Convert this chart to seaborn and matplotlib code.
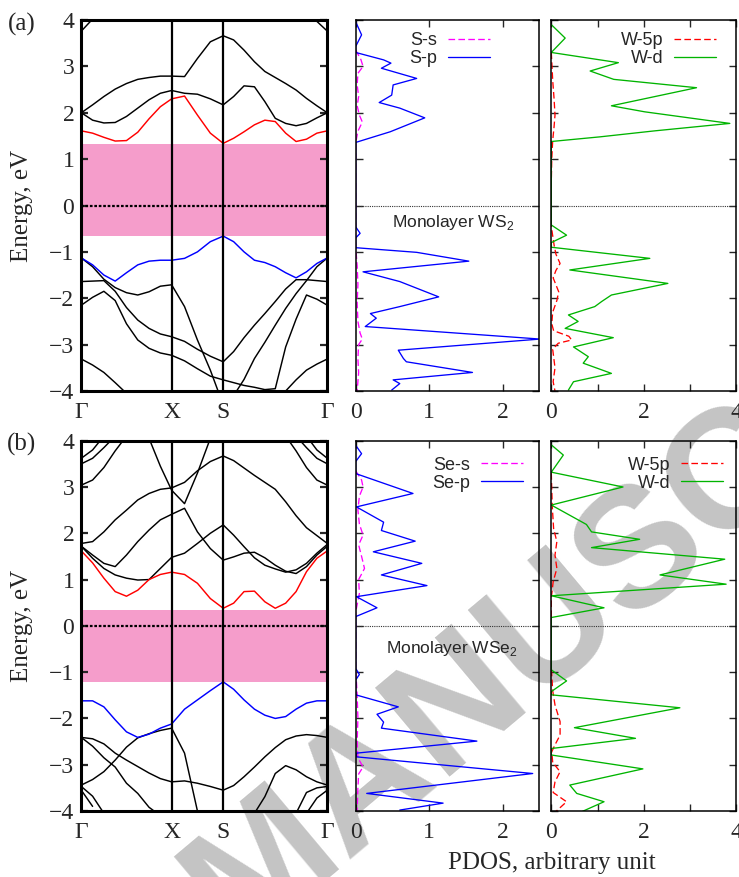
import numpy as np
import matplotlib
matplotlib.use("Agg")
import matplotlib.pyplot as plt
import seaborn as sns
from matplotlib.lines import Line2D

nan = np.nan

# ---------------- k-path (rectangular BZ: G-X-S-G) ----------------
seg_gx, seg_xs, seg_sg = 1.0, 0.571, 1.152
k = np.concatenate([seg_gx * np.linspace(0, 1, 9),
                    seg_gx + seg_xs * np.linspace(0.25, 1, 4),
                    seg_gx + seg_xs + seg_sg * np.linspace(0.1, 1, 10)])
k_labels = ["Γ", "X", "S", "Γ"]
k_nodes = [0.0, seg_gx, seg_gx + seg_xs, seg_gx + seg_xs + seg_sg]

# ---------------- WS2 bands (eV) ----------------
ws2_gap = (-0.65, 1.33)
ws2_cb_red = [1.61, 1.56, 1.47, 1.39, 1.40, 1.58, 1.87, 2.13, 2.30, 2.36, 1.95, 1.56, 1.34,
              1.45, 1.59, 1.74, 1.84, 1.81, 1.56, 1.38, 1.43, 1.56, 1.61]
ws2_c2 = [2.00, 1.84, 1.78, 1.79, 1.92, 2.10, 2.28, 2.42, 2.48, 2.42, 2.40, 2.30, 2.17,
          2.35, 2.58, 2.56, 2.24, 1.88, 1.77, 1.72, 1.77, 1.89, 2.00]
ws2_c3 = [2.00, 2.17, 2.35, 2.51, 2.63, 2.72, 2.76, 2.79, 2.79, 2.78, 3.17, 3.53, 3.66,
          3.57, 3.35, 3.10, 2.89, 2.76, 2.63, 2.49, 2.31, 2.15, 2.00]
ws2_c4 = [3.76, 4.02] + [nan] * 19 + [3.97, 3.76]
ws2_vb_blue = [-1.13, -1.28, -1.50, -1.63, -1.45, -1.28, -1.20, -1.18, -1.18, -1.14, -1.00, -0.78, -0.66,
               -0.78, -1.00, -1.18, -1.23, -1.32, -1.45, -1.56, -1.43, -1.25, -1.13]
ws2_v2 = [-1.13, -1.32, -1.59, -1.77, -1.88, -1.93, -1.86, -1.74, -1.71, -2.18, -2.90, -3.55, -4.30,
          -4.10, -3.75, -3.30, -2.95, -2.58, -2.22, -1.90, -1.62, -1.32, -1.13]
ws2_v3 = [-1.64, -1.63, -1.62, -1.85, -2.20, -2.47, -2.65, -2.77, -2.83, -2.93, -3.10, -3.25, -3.37,
          -3.15, -2.85, -2.58, -2.33, -2.07, -1.80, -1.60, -1.60, -1.62, -1.64]
ws2_v4 = [-2.15, -1.98, -1.85, -2.05, -2.55, -2.90, -3.08, -3.18, -3.23, -3.35, -3.52, -3.68, -3.76,
          -3.82, -3.88, -3.92, -3.97, -3.95, -3.05, -2.45, -1.93, -2.02, -2.15]
ws2_v5 = [-3.31, -3.44, -3.60, -3.82, -4.05] + [nan] * 13 + [-4.00, -3.76, -3.55, -3.42, -3.31]

# ---------------- WSe2 bands (eV) ----------------
wse2_gap = (-1.21, 0.35)
wse2_cb_red = [1.62, 1.36, 1.03, 0.74, 0.64, 0.77, 1.00, 1.11, 1.16, 1.11, 0.92, 0.59, 0.38,
               0.49, 0.74, 0.75, 0.52, 0.38, 0.49, 0.74, 1.17, 1.46, 1.62]
wse2_c2 = [1.72, 1.46, 1.24, 1.10, 1.03, 0.99, 1.00, 1.24, 1.48, 1.57, 1.78, 2.00, 2.18,
           1.96, 1.71, 1.47, 1.31, 1.23, 1.16, 1.21, 1.35, 1.57, 1.76]
wse2_c3 = [1.72, 1.53, 1.35, 1.28, 1.53, 1.82, 2.07, 2.29, 2.41, 2.54, 2.03, 1.67, 1.42,
           1.49, 1.57, 1.59, 1.47, 1.31, 1.18, 1.13, 1.28, 1.53, 1.72]
wse2_c4 = [1.78, 1.82, 2.03, 2.29, 2.50, 2.72, 2.86, 2.95, 2.98, 3.10, 3.35, 3.55, 3.67,
           3.57, 3.41, 3.25, 3.10, 2.95, 2.68, 2.38, 2.12, 1.95, 1.78]
wse2_c5 = [nan] * 6 + [4.05, 3.45, 2.93, 2.64, 3.30, 4.05] + [nan] * 11
wse2_c6 = [3.62, 3.80, 4.10] + [nan] * 17 + [4.10, 3.80, 3.62]
wse2_c7 = [3.50, 3.62, 3.85, 4.10] + [nan] * 15 + [4.10, 3.85, 3.62, 3.50]
wse2_c8 = [3.04, 3.15, 3.42, 3.78, 4.10] + [nan] * 13 + [4.10, 3.78, 3.42, 3.15, 3.04]
wse2_vb_blue = [-1.62, -1.62, -1.75, -2.03, -2.29, -2.41, -2.34, -2.21, -2.12, -1.80, -1.60, -1.40, -1.21,
                -1.37, -1.60, -1.80, -1.93, -2.00, -1.96, -1.80, -1.67, -1.62, -1.62]
wse2_v2 = [-2.41, -2.44, -2.55, -2.75, -2.90, -3.04, -3.18, -3.30, -3.37, -3.35, -3.40, -3.47, -3.55,
           -3.45, -3.26, -3.05, -2.83, -2.63, -2.46, -2.38, -2.35, -2.37, -2.41]
wse2_v3 = [-3.44, -3.32, -3.15, -2.90, -2.62, -2.42, -2.33, -2.26, -2.21, -2.75, -4.00] + [nan] * 12
wse2_v4 = [-2.41, -2.60, -2.85, -3.05, -3.40, -3.62, -3.92, -4.10] + [nan] * 15
wse2_v5 = [-3.47, -3.68, -4.05] + [nan] * 16 + [-4.05, -3.60, -3.50, -3.47]
wse2_v6 = [-3.55, -3.90] + [nan] * 18 + [-4.05, -3.72, -3.55]
wse2_v7 = [nan] * 15 + [-4.05, -3.69, -3.19, -3.02, -3.11, -3.26, -3.37, -3.44]

# ---------------- PDOS, WS2 ----------------
ws2_sp_E = [3.96, 3.68, 3.43, 3.30, 3.14, 3.07, 2.96, 2.74, 2.60, 2.38, 2.22, 2.10, 1.89, 1.59, 1.36,
            -0.46, -0.60, -0.70, -0.91, -1.01, -1.20, -1.43, -1.64, -1.97, -2.18, -2.33, -2.43, -2.61,
            -2.88, -3.12, -3.30, -3.37, -3.60, -3.76, -3.84, -3.98]
ws2_sp_v = [0.00, 0.08, 0.00, 0.00, 0.38, 0.48, 0.35, 0.83, 0.51, 0.49, 0.32, 0.60, 0.94, 0.47, 0.00,
            0.00, 0.06, 0.00, 0.00, 0.83, 1.54, 0.10, 0.60, 1.13, 0.60, 0.20, 0.28, 0.13,
            2.51, 0.58, 0.65, 0.69, 1.59, 0.51, 0.60, 0.49]
ws2_ss_E = [3.35, 3.15, 3.00, 2.85, 2.60, 2.35, 2.15, 1.95, 1.80, 1.60, 1.35, -0.90, -1.30, -1.70,
            -2.10, -2.50, -2.75, -2.88, -3.00, -3.30, -3.60, -4.00]
ws2_ss_v = [0.00, 0.07, 0.10, 0.03, 0.02, 0.04, 0.02, 0.05, 0.09, 0.03, 0.00, 0.00, 0.02, 0.03,
            0.02, 0.03, 0.06, 0.09, 0.04, 0.03, 0.04, 0.02]
ws2_wd_E = [3.90, 3.61, 3.30, 3.08, 2.90, 2.72, 2.54, 2.15, 2.02, 1.77, 1.61, 1.48, 1.38,
            -0.42, -0.64, -0.80, -0.90, -1.14, -1.39, -1.68, -1.93, -2.07, -2.18, -2.36, -2.50,
            -2.65, -2.85, -3.05, -3.26, -3.40, -3.62, -3.80, -3.98]
ws2_wd_v = [0.00, 0.30, 0.00, 1.45, 0.84, 1.35, 3.14, 1.30, 2.02, 3.86, 2.24, 1.05, 0.00,
            0.00, 0.33, 0.00, 0.00, 2.13, 0.40, 2.52, 1.30, 1.09, 0.94, 0.37, 0.58,
            0.30, 1.34, 0.48, 0.80, 0.69, 1.30, 0.48, 0.37]
ws2_w5p_E = [3.30, 2.70, 2.30, 1.95, 1.70, 1.40, 1.00, 0.50, -0.45, -0.85, -1.05, -1.25, -1.40,
             -1.56, -1.86, -2.05, -2.30, -2.55, -2.70, -2.82, -2.90, -2.97, -3.10, -3.50, -3.80, -4.00]
ws2_w5p_v = [0.00, 0.03, 0.06, 0.08, 0.06, 0.03, 0.01, 0.00, 0.00, 0.06, 0.10, 0.19, 0.10,
             0.04, 0.16, 0.12, 0.03, 0.01, 0.05, 0.38, 0.44, 0.15, 0.03, 0.08, 0.04, 0.08]

# ---------------- PDOS, WSe2 ----------------
wse2_sp_E = [3.90, 3.72, 3.55, 3.29, 2.86, 2.57, 2.24, 2.06, 1.83, 1.60, 1.35, 1.10, 0.87, 0.63, 0.39,
             0.20, -0.92, -1.05, -1.17, -1.49, -1.75, -1.91, -2.08, -2.21, -2.49, -2.75, -2.83,
             -3.19, -3.62, -3.83, -3.98]
wse2_sp_v = [0.00, 0.08, 0.00, 0.00, 0.78, 0.01, 0.38, 0.35, 0.81, 0.24, 0.90, 0.35, 0.97, 0.01, 0.29,
             0.00, 0.00, 0.05, 0.00, 0.00, 0.58, 0.29, 0.38, 0.35, 1.65, 0.01, 0.01,
             2.41, 0.15, 1.19, 0.60]
wse2_ss_E = [3.35, 3.15, 3.00, 2.80, 2.50, 2.20, 1.96, 1.75, 1.50, 1.24, 1.00, 0.70, 0.30, -0.90,
             -1.50, -2.00, -2.50, -2.85, -3.05, -3.20, -3.50, -4.00]
wse2_ss_v = [0.00, 0.08, 0.10, 0.05, 0.03, 0.05, 0.10, 0.04, 0.08, 0.12, 0.04, 0.05, 0.00, 0.00,
             0.02, 0.03, 0.02, 0.03, 0.10, 0.04, 0.03, 0.02]
wse2_wd_E = [3.91, 3.69, 3.32, 3.00, 2.61, 2.19, 2.03, 1.87, 1.69, 1.44, 1.10, 0.90, 0.65, 0.39, 0.18,
             -0.95, -1.19, -1.42, -1.49, -1.77, -2.20, -2.43, -2.65, -2.79, -3.09, -3.44, -3.62,
             -3.80, -4.05]
wse2_wd_v = [0.00, 0.26, 0.00, 1.55, 0.00, 0.76, 0.87, 1.91, 0.87, 3.75, 2.35, 3.78, 0.00, 1.14, 0.00,
             0.00, 0.33, 0.00, 0.00, 2.78, 0.50, 1.82, 0.00, 0.00, 1.98, 0.40, 0.55,
             1.14, 0.58]
wse2_w5p_E = [3.30, 2.60, 2.10, 1.82, 1.53, 1.24, 0.95, 0.60, -0.90, -1.40, -1.71, -2.07, -2.36,
              -2.57, -2.72, -2.95, -3.15, -3.37, -3.60, -3.80, -4.01]
wse2_w5p_v = [0.00, 0.02, 0.05, 0.12, 0.08, 0.12, 0.04, 0.00, 0.00, 0.03, 0.08, 0.19, 0.19,
              0.08, 0.01, 0.03, 0.19, 0.08, 0.04, 0.33, 0.10]

# ---------------- style ----------------
sns.set_theme(style="white")
plt.rcParams["font.family"] = ["Liberation Serif", "DejaVu Serif"]
SANS = ["Liberation Sans", "DejaVu Sans"]

RED, BLUE, BLACK = "#ff0000", "#0000ff", "#000000"
MAGENTA, GREEN = "#ff00ff", "#00b400"
PINK = "#f59dcb"
DASH = (0, (5, 2.5))

W, H = 739, 877
fig = plt.figure(figsize=(W / 100, H / 100), dpi=100)
fig.patch.set_facecolor("white")


def add_ax(left, right, top, bottom):
    ax = fig.add_axes([left / W, 1 - bottom / H, (right - left) / W, (bottom - top) / H])
    ax.set_facecolor("none")
    return ax


def draw_band(ax, energies, color):
    e = np.asarray(energies, dtype=float)
    idx = np.flatnonzero(~np.isnan(e))
    runs = np.split(idx, np.where(np.diff(idx) > 1)[0] + 1)
    for r in runs:
        if len(r) < 2:
            continue
        sns.lineplot(x=k[r], y=e[r], ax=ax, color=color, lw=1.05, sort=False,
                     estimator=None, legend=False)


def band_panel(ax, gap, black_bands, red_band, blue_band):
    ax.axhspan(gap[0], gap[1], color=PINK, lw=0, zorder=0)
    for b in black_bands:
        draw_band(ax, b, BLACK)
    draw_band(ax, red_band, RED)
    draw_band(ax, blue_band, BLUE)
    for kn in k_nodes[1:3]:
        ax.axvline(kn, color="black", lw=1.6, zorder=3)
    ax.axhline(0, color="black", lw=1.6, ls=(0, (1.2, 0.8)), zorder=3)
    ax.set_xlim(k_nodes[0], k_nodes[-1])
    ax.set_ylim(-4, 4)
    ax.set_xticks(k_nodes)
    ax.set_xticklabels(k_labels)
    ax.set_yticks(range(-4, 5))
    ax.set_yticklabels([str(v).replace("-", "\u2212") for v in range(-4, 5)])
    ax.tick_params(axis="y", direction="in", length=5, width=1.6, left=True, right=True,
                   labelsize=17, pad=5)
    ax.tick_params(axis="x", length=0, labelsize=17, pad=8)
    for s in ax.spines.values():
        s.set_linewidth(2.2)
        s.set_color("black")
    ax.set_xlabel("")
    ax.set_ylabel("")


def pdos_panel(ax, curves, xmax, xticks, xticklabels, legend_anchor, note=None):
    ax.axhline(0, color="#333333", lw=0.8, ls=(0, (1, 1)), zorder=1)
    handles = []
    for E, v, color, ls, lab in curves:
        sns.lineplot(x=v, y=E, ax=ax, color=color, lw=0.95, ls=ls, sort=False,
                     estimator=None, legend=False)
        handles.append(Line2D([], [], color=color, lw=0.95, ls=ls, label=lab))
    ax.set_xlim(0, xmax)
    ax.set_ylim(-4, 4)
    ax.set_xticks(xticks)
    ax.set_xticklabels(xticklabels)
    ax.set_yticks(range(-4, 5))
    ax.set_yticklabels([])
    ax.tick_params(direction="in", length=5, width=1.0, left=True, right=True, top=True,
                   bottom=True, labelsize=17, pad=8)
    for s in ax.spines.values():
        s.set_linewidth(1.1)
        s.set_color("black")
    ax.set_xlabel("")
    ax.set_ylabel("")
    ax.legend(handles=handles, loc="upper right", bbox_to_anchor=legend_anchor,
              frameon=False, markerfirst=False, handlelength=2.3, handletextpad=0.6,
              labelspacing=0.05, borderpad=0, borderaxespad=0,
              prop={"family": SANS, "size": 13})
    if note is not None:
        ax.text(note[0], note[1], note[2], transform=ax.transAxes, ha="center", va="center",
                fontsize=12.5, family=SANS)


rows = [
    dict(top=20, bottom=391, tag="(a)",
         gap=ws2_gap, black=[ws2_c2, ws2_c3, ws2_c4, ws2_v2, ws2_v3, ws2_v4, ws2_v5],
         red=ws2_cb_red, blue=ws2_vb_blue,
         left_pdos=[(ws2_ss_E, ws2_ss_v, MAGENTA, DASH, "S-s"),
                    (ws2_sp_E, ws2_sp_v, BLUE, "-", "S-p")],
         right_pdos=[(ws2_w5p_E, ws2_w5p_v, RED, DASH, "W-5p"),
                     (ws2_wd_E, ws2_wd_v, GREEN, "-", "W-d")],
         left_anchor=(0.731, 0.967), right_anchor=(0.89, 0.967),
         note=(0.53, 0.453, r"Monolayer WS$_\mathregular{2}$")),
    dict(top=440.7, bottom=811, tag="(b)",
         gap=wse2_gap, black=[wse2_c2, wse2_c3, wse2_c4, wse2_c5, wse2_c6, wse2_c7, wse2_c8,
                              wse2_v2, wse2_v3, wse2_v4, wse2_v5, wse2_v6, wse2_v7],
         red=wse2_cb_red, blue=wse2_vb_blue,
         left_pdos=[(wse2_ss_E, wse2_ss_v, MAGENTA, DASH, "Se-s"),
                    (wse2_sp_E, wse2_sp_v, BLUE, "-", "Se-p")],
         right_pdos=[(wse2_w5p_E, wse2_w5p_v, RED, DASH, "W-5p"),
                     (wse2_wd_E, wse2_wd_v, GREEN, "-", "W-d")],
         left_anchor=(0.91, 0.957), right_anchor=(0.926, 0.957),
         note=(0.523, 0.4375, r"Monolayer WSe$_\mathregular{2}$")),
]

for row in rows:
    t, b = row["top"], row["bottom"]
    ax_b = add_ax(81.3, 327.3, t, b)
    band_panel(ax_b, row["gap"], row["black"], row["red"], row["blue"])
    ax_l = add_ax(355.7, 539.3, t, b)
    pdos_panel(ax_l, row["left_pdos"], 2.5, [0, 1, 2], ["0", "1", "2"], row["left_anchor"],
               note=row["note"])
    ax_r = add_ax(551.3, 736.3, t, b)
    pdos_panel(ax_r, row["right_pdos"], 4, [0, 1, 2, 3, 4], ["0", "", "2", "", "4"],
               row["right_anchor"])
    mid = (t + b) / 2
    fig.text(22 / W, 1 - mid / H, "Energy, eV", rotation=90, ha="center", va="center",
             fontsize=18)
    fig.text(22 / W, 1 - (t + 4) / H, row["tag"], ha="center", va="center", fontsize=18)

fig.text(551.7 / W, 1 - 863 / H, "PDOS, arbitrary unit", ha="center", va="center", fontsize=18)

# faint diagonal stamp behind the panels
fig.text(642 / W, 1 - 548 / H, "MANUSCRIPT", rotation=40, rotation_mode="anchor",
         ha="center", va="center", fontsize=122, fontweight="bold", family=SANS,
         color="#c4c4c4", zorder=-1)

fig.savefig("out.png", dpi=100, facecolor="white")
